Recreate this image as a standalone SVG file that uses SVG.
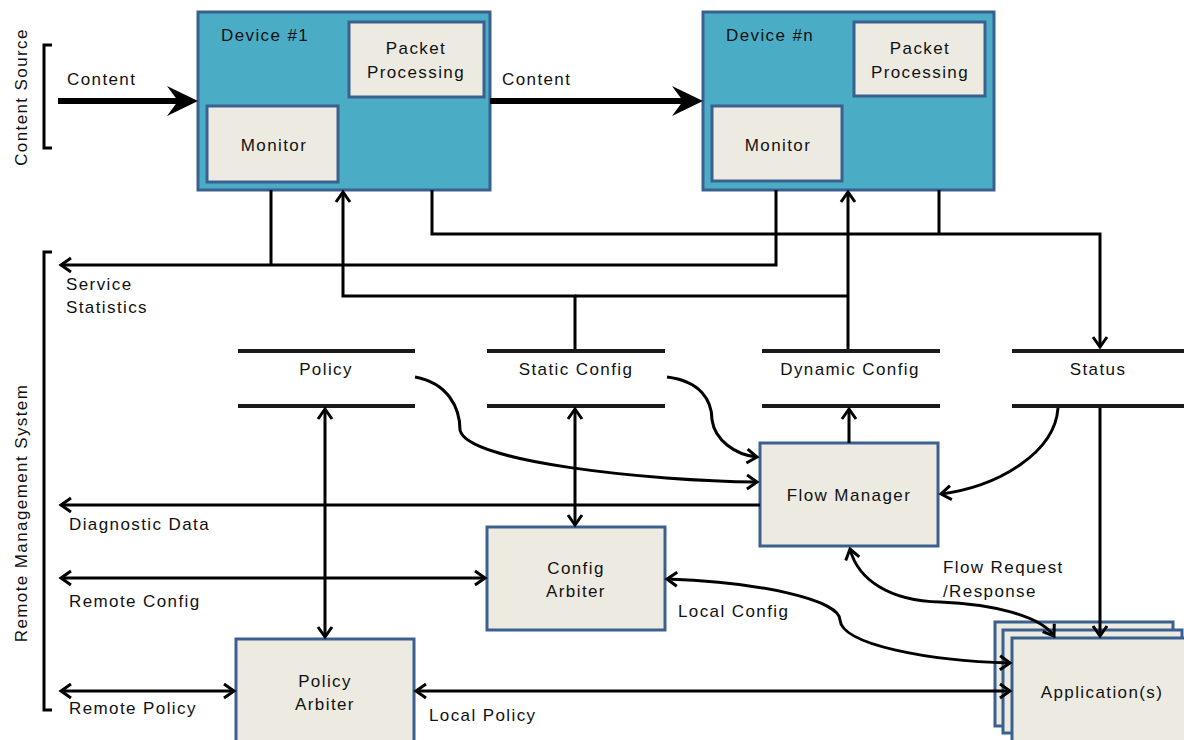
<svg xmlns="http://www.w3.org/2000/svg" width="1184" height="740" viewBox="0 0 1184 740">
<style>
text{font-family:"Liberation Sans",Arial,sans-serif;font-size:17px;fill:#111;letter-spacing:1.4px}
.m{text-anchor:middle}
.dev{fill:#4BACC6;stroke:#3B6090;stroke-width:3}
.box{fill:#EDEBE1;stroke:#3B6090;stroke-width:3}
.ln{fill:none;stroke:#000;stroke-width:3}
.bar{stroke:#1a1a1a;stroke-width:4}
.br{fill:none;stroke:#000;stroke-width:3}
</style>
<defs>
<marker id="a" viewBox="-13 -9 16 18" markerWidth="16" markerHeight="18" refX="0" refY="0" orient="auto-start-reverse" markerUnits="userSpaceOnUse">
<path d="M-10,-7 L0,0 L-10,7" fill="none" stroke="#000" stroke-width="3"/>
</marker>
</defs>
<rect width="1184" height="740" fill="#fff"/>

<g id="content-source">
<path class="br" d="M52,45 H44 V148 H52"/>
<text class="m" transform="translate(27,97) rotate(-90)">Content Source</text>
</g>
<g id="remote-management">
<path class="br" d="M52,252 H44 V710 H52"/>
<text class="m" transform="translate(27,513) rotate(-90)">Remote Management System</text>
</g>

<g id="device1">
<rect class="dev" x="198" y="12" width="292" height="178"/>
<text x="221" y="41">Device #1</text>
<rect class="box" x="349" y="22" width="135" height="75"/>
<text class="m" x="416" y="54">Packet</text>
<text class="m" x="416" y="78">Processing</text>
<rect class="box" x="207" y="106" width="131" height="76"/>
<text class="m" x="274" y="151">Monitor</text>
</g>
<g id="devicen">
<rect class="dev" x="703" y="12" width="291" height="178"/>
<text x="726" y="41">Device #n</text>
<rect class="box" x="854" y="22" width="131" height="74"/>
<text class="m" x="920" y="54">Packet</text>
<text class="m" x="920" y="78">Processing</text>
<rect class="box" x="712" y="106" width="130" height="75"/>
<text class="m" x="778" y="151">Monitor</text>
</g>

<g id="store-policy">
<line class="bar" x1="238" y1="351" x2="415" y2="351"/>
<line class="bar" x1="238" y1="406" x2="415" y2="406"/>
<text class="m" x="326" y="375">Policy</text>
</g>
<g id="store-static">
<line class="bar" x1="487" y1="351" x2="665" y2="351"/>
<line class="bar" x1="487" y1="406" x2="665" y2="406"/>
<text class="m" x="576" y="375">Static Config</text>
</g>
<g id="store-dynamic">
<line class="bar" x1="762" y1="351" x2="940" y2="351"/>
<line class="bar" x1="762" y1="406" x2="940" y2="406"/>
<text class="m" x="850" y="375">Dynamic Config</text>
</g>
<g id="store-status">
<line class="bar" x1="1012" y1="351" x2="1184" y2="351"/>
<line class="bar" x1="1012" y1="406" x2="1184" y2="406"/>
<text class="m" x="1098" y="375">Status</text>
</g>

<g id="flow-manager">
<rect class="box" x="760" y="443" width="178" height="103"/>
<text class="m" x="849" y="501">Flow Manager</text>
</g>
<g id="config-arbiter">
<rect class="box" x="487" y="527" width="178" height="103"/>
<text class="m" x="576" y="574">Config</text>
<text class="m" x="576" y="597">Arbiter</text>
</g>
<g id="policy-arbiter">
<rect class="box" x="236" y="639" width="178" height="110"/>
<text class="m" x="325" y="687">Policy</text>
<text class="m" x="325" y="710">Arbiter</text>
</g>
<g id="applications">
<rect class="box" x="995" y="622" width="178" height="104"/>
<rect class="box" x="1003" y="630" width="179" height="103"/>
<rect class="box" x="1012" y="638" width="180" height="112"/>
<text class="m" x="1102" y="698">Application(s)</text>
</g>

<g id="connectors">
<line x1="58" y1="101" x2="182" y2="101" stroke="#000" stroke-width="6"/>
<polygon points="198,101 167,86 178,101 167,116" fill="#000"/>
<line x1="490" y1="101" x2="687" y2="101" stroke="#000" stroke-width="6"/>
<polygon points="703,101 672,86 683,101 672,116" fill="#000"/>

<path class="ln" d="M271,190 V265"/>
<path class="ln" d="M776,190 V265 H61" marker-end="url(#a)"/>

<path class="ln" d="M575,349 V296 H343 V192" marker-end="url(#a)"/>
<path class="ln" d="M575,296 H848"/>
<path class="ln" d="M848,349 V192" marker-end="url(#a)"/>

<path class="ln" d="M432,190 V234 H1100 V347" marker-end="url(#a)"/>
<path class="ln" d="M939,190 V234"/>

<path class="ln" d="M325,409 V637" marker-start="url(#a)" marker-end="url(#a)"/>
<path class="ln" d="M575,409 V525" marker-start="url(#a)" marker-end="url(#a)"/>
<path class="ln" d="M849,443 V409" marker-end="url(#a)"/>
<path class="ln" d="M760,505 H61" marker-end="url(#a)"/>
<path class="ln" d="M61,578 H485" marker-start="url(#a)" marker-end="url(#a)"/>
<path class="ln" d="M61,691 H234" marker-start="url(#a)" marker-end="url(#a)"/>
<path class="ln" d="M416,691 H1010" marker-start="url(#a)" marker-end="url(#a)"/>
<path class="ln" d="M1100,408 V636" marker-end="url(#a)"/>

<path class="ln" d="M415,377 C448,383 460,408 460,430 C466,462 650,481 757,482" marker-end="url(#a)"/>
<path class="ln" d="M667,377 C700,381 712,400 712,420 C715,440 735,455 757,457" marker-end="url(#a)"/>
<path class="ln" d="M1058,408 C1055,452 1000,486 941,494" marker-end="url(#a)"/>
<path class="ln" d="M850,549 C858,580 890,601 940,602 C990,604 1040,615 1054,636" marker-start="url(#a)" marker-end="url(#a)"/>
<path class="ln" d="M667,579 C760,582 840,600 840,620 C842,645 930,661 1010,663" marker-start="url(#a)" marker-end="url(#a)"/>
</g>

<g id="labels">
<text x="67" y="85">Content</text>
<text x="502" y="85">Content</text>
<text x="66" y="290">Service</text>
<text x="66" y="313">Statistics</text>
<text x="69" y="530">Diagnostic Data</text>
<text x="69" y="607">Remote Config</text>
<text x="69" y="714">Remote Policy</text>
<text x="429" y="721">Local Policy</text>
<text x="678" y="617">Local Config</text>
<text x="943" y="573">Flow Request</text>
<text x="943" y="597">/Response</text>
</g>
</svg>
